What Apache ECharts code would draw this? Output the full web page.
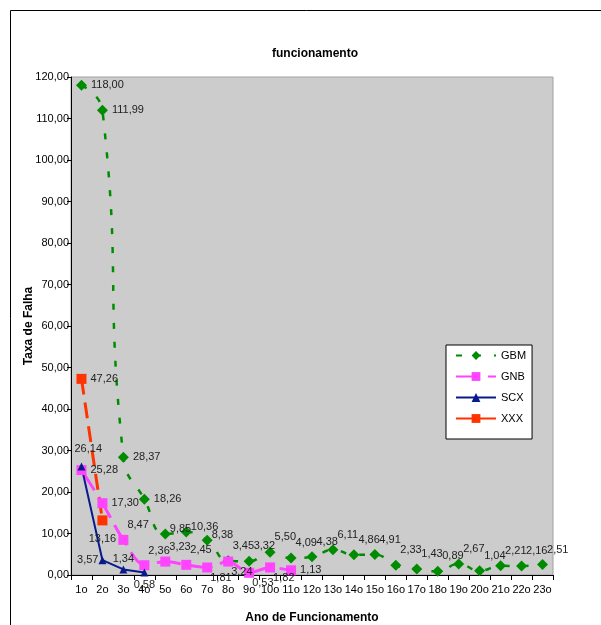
<!DOCTYPE html>
<html>
<head>
<meta charset="utf-8">
<script src="https://cdn.jsdelivr.net/npm/echarts@6/dist/echarts.min.js"></script>
<style>
html,body{margin:0;padding:0;background:#fff;}
#chart{width:601px;height:625px;}
</style>
</head>
<body>
<div id="chart"></div>
<script>
const categories = ['1o','2o','3o','4o','5o','6o','7o','8o','9o','10o','11o','12o','13o','14o','15o','16o','17o','18o','19o','20o','21o','22o','23o'];
const gbm = [118.00,111.99,28.37,18.26,9.85,10.36,8.38,3.45,3.32,5.50,4.09,4.38,6.11,4.86,4.91,2.33,1.43,0.89,2.67,1.04,2.21,2.16,2.51];
const gnb = [25.28,17.30,8.47,2.36,3.23,2.45,1.81,3.24,0.53,1.82,1.13];
const scx = [26.14,3.57,1.34,0.58];
const xxx = [47.26,13.16];
const yTicks = {min:0, max:120, interval:10};

const fmt = v => Number(v).toFixed(2).replace('.', ',');
const lblBase = {show:true, fontSize:11, color:'#222', fontFamily:'Liberation Sans, Arial, sans-serif', formatter: p => fmt(p.value)};

function build(values, posFn){
  return values.map((v,i)=>({value:v, label:posFn(i)}));
}

const chart = echarts.init(document.getElementById('chart'), null, {renderer:'canvas'});
chart.setOption({
  animation:false,
  backgroundColor:'#fff',
  textStyle:{fontFamily:'Liberation Sans, Arial, sans-serif'},
  graphic:[{type:'rect', z:-10, shape:{x:10.5,y:10.5,width:700,height:700}, style:{fill:'none', stroke:'#000', lineWidth:1}}],
  title:{text:'funcionamento', left:310, top:43, textAlign:'center',
    textStyle:{fontSize:12, fontWeight:'bold', color:'#000'}},
  grid:{left:71, top:77, right:48, bottom:50, outerBoundsMode:'none', containLabel:false, show:true, backgroundColor:'#CCCCCC', borderColor:'#A0A0A0', borderWidth:1},
  legend:{orient:'vertical', left:446, top:345, padding:[5,6,15,9], itemGap:10, itemWidth:40, itemHeight:11,
    backgroundColor:'#fff', borderColor:'#000', borderWidth:1,
    textStyle:{fontSize:11, color:'#000'},
    data:['GBM','GNB','SCX','XXX']},
  xAxis:{type:'category', data:categories, boundaryGap:true,
    name:'Ano de Funcionamento', nameLocation:'middle', nameGap:37, nameMoveOverlap:false,
    nameTextStyle:{fontSize:12, fontWeight:'bold', color:'#000'},
    axisLine:{lineStyle:{color:'#000', width:1}},
    axisTick:{show:true, length:5, lineStyle:{color:'#000'}},
    axisLabel:{fontSize:11, color:'#000', margin:9, interval:0}},
  yAxis:{type:'value', min:yTicks.min, max:yTicks.max, interval:yTicks.interval,
    name:'Taxa de Falha', nameLocation:'middle', nameGap:36, nameMoveOverlap:false,
    nameTextStyle:{fontSize:12, fontWeight:'bold', color:'#000'},
    axisLine:{show:true, lineStyle:{color:'#000', width:1}},
    axisTick:{show:true, length:4, lineStyle:{color:'#000'}},
    splitLine:{show:false},
    axisLabel:{fontSize:11, color:'#000', margin:2, formatter: v => fmt(v)}},
  series:[
    {name:'GBM', type:'line', smooth:0.5, symbol:'diamond', symbolSize:11,
      itemStyle:{color:'#008C00'}, lineStyle:{color:'#008C00', width:2.5, type:[6,13]},
      label:lblBase,
      data: build(gbm, i => i<4 ? {position:'right', distance:4} : (i<7 ? {position:[10,-5]} : {position:[10,-15]}))},
    {name:'GNB', type:'line', smooth:0.3, symbol:'rect', symbolSize:10,
      itemStyle:{color:'#FF44FF'}, lineStyle:{color:'#FF44FF', width:3, type:[24,8]},
      label:lblBase,
      data: build(gnb, i => (i<2 || i===10) ? {position:'right', distance:4} : (i<6 ? {position:[9,-15]} : {position:[8,10]}))},
    {name:'SCX', type:'line', smooth:false, symbol:'triangle', symbolSize:8,
      itemStyle:{color:'#0A1A8C'}, lineStyle:{color:'#0A1A8C', width:2},
      label:lblBase,
      data: build(scx, i => [{position:[-3,-19]}, {position:'left', distance:0}, {position:'top', distance:1}, {position:'bottom', distance:3}][i])},
    {name:'XXX', type:'line', smooth:0.3, symbol:'rect', symbolSize:10,
      itemStyle:{color:'#FF3300'}, lineStyle:{color:'#FF3300', width:3, type:[16,8]},
      label:lblBase,
      data: build(xxx, i => i===0 ? {position:'right', distance:4} : {position:'bottom', distance:8})}
  ]
});
</script>
</body>
</html>
